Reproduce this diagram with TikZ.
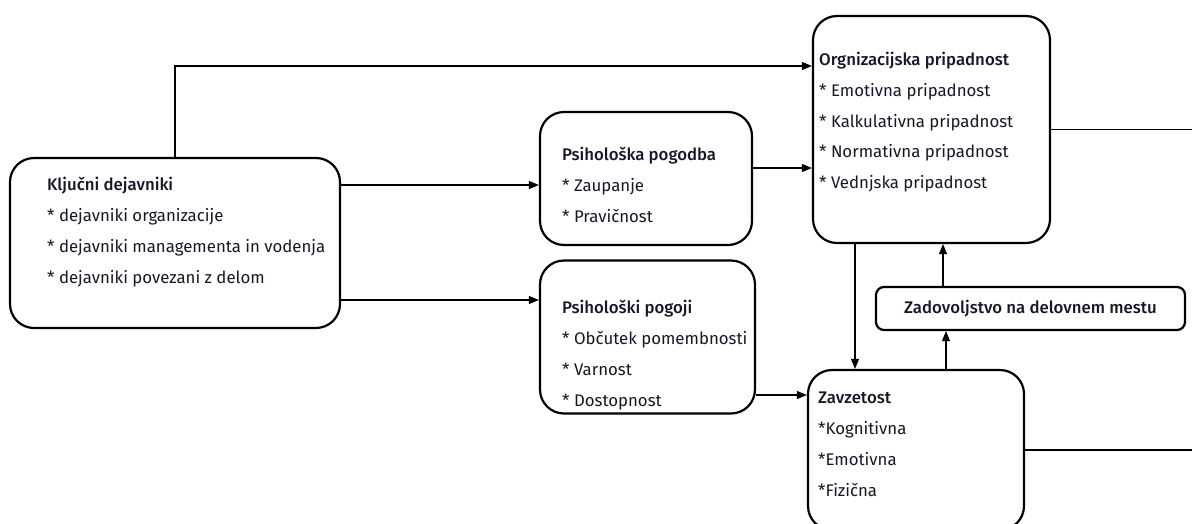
\documentclass[tikz,border=0pt]{standalone}
\usepackage{fontspec}
\setmainfont{Fira Sans}[BoldFont={Fira Sans Medium}]
\usepackage{xcolor}
\usetikzlibrary{positioning, arrows.meta}

\definecolor{crnilo}{RGB}{22,22,40}

\tikzset{
  okvir/.style={draw, line width=2.2pt, rounded corners=24pt},
  puscica/.style={-{Triangle[length=10pt,width=8pt]}, line width=1.1pt},
  besedilo/.style={anchor=north west, align=left, inner sep=0pt, text=crnilo,
    font=\fontsize{16.8}{30.8}\selectfont}
}

\begin{document}
\begin{tikzpicture}[x=1pt, y=-1pt]

\useasboundingbox (0,0) rectangle (1192,523);
\clip (0,0) rectangle (1192,523);

% Okvirji (pravokotniki z zaobljenimi robovi)
\node[okvir, minimum width=330pt, minimum height=170pt] (kd) at (175,243) {};  % Ključni dejavniki
\node[okvir, minimum width=212pt, minimum height=133pt] (pp) at (646,178.5) {};  % Psihološka pogodba
\node[okvir, minimum width=215pt, minimum height=153pt] (pg) at (647.5,337) {};  % Psihološki pogoji
\node[okvir, minimum width=237pt, minimum height=227pt] (op) at (931.5,129.5) {};  % Organizacijska pripadnost
\node[okvir, minimum width=216pt, minimum height=160pt] (zv) at (916,450) {};  % Zavzetost
\node[draw, line width=2.2pt, rounded corners=8pt, minimum width=309pt, minimum height=43pt,
  text=crnilo, font=\fontsize{16.8}{20}\selectfont\bfseries] (zd) at (1030.5,308.5) {Zadovoljstvo na delovnem mestu};

% Besedilo v okvirjih
\node[besedilo] (kdt) at (47,177) {\textbf{Ključni dejavniki}\\ * dejavniki organizacije\\ * dejavniki managementa in vodenja\\ * dejavniki povezani z delom};
\node[besedilo] (ppt) at (562,147) {\textbf{Psihološka pogodba}\\ * Zaupanje\\ * Pravičnost};
\node[besedilo] (pgt) at (562,300) {\textbf{Psihološki pogoji}\\ * Občutek pomembnosti\\ * Varnost\\ * Dostopnost};
\node[besedilo] (opt) at (819,52) {\textbf{Orgnizacijska pripadnost}\\ * Emotivna pripadnost\\ * Kalkulativna pripadnost\\ * Normativna pripadnost\\ * Vednjska pripadnost};
\node[besedilo] (zvt) at (818,392) {\textbf{Zavzetost}\\ *Kognitivna\\ *Emotivna\\ *Fizična};

% Prosti konci črt na desnem robu
\coordinate (desno1) at (1192,130);
\coordinate (desno2) at (1192,449);

% Povezave
\draw[puscica] (kd.north) |- ([yshift=63.5pt]op.west);
\draw[puscica] ([yshift=58pt]kd.east) -- ([yshift=58pt]kd.east -| pp.west);
\draw[puscica] ([yshift=-57pt]kd.east) -- ([yshift=-57pt]kd.east -| pg.west);
\draw[puscica] ([yshift=10.5pt]pp.east) -- ([yshift=10.5pt]pp.east -| op.west);
\draw[puscica] ([yshift=-58pt]pg.east) -- ([yshift=-58pt]pg.east -| zv.west);
\draw[puscica] ([xshift=-76.5pt]op.south) -- ([xshift=-76.5pt]op.south |- zv.north);
\draw[puscica] ([xshift=30pt]zv.north) -- ([xshift=30pt]zv.north |- zd.south);
\draw[puscica] ([xshift=-87.5pt]zd.north) -- ([xshift=-87.5pt]zd.north |- op.south);
\draw[line width=1.1pt] (op.east) -- (op.east -| desno1);
\draw[line width=1.1pt] (zv.east) -- (zv.east -| desno2);

\end{tikzpicture}
\end{document}
